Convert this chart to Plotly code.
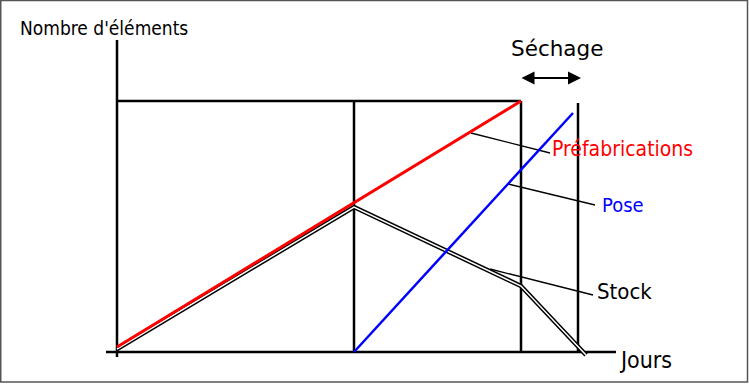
import plotly.graph_objects as go

# Conceptual units (origin at bottom-left corner of the diagram)
# Phase boundaries on the "Jours" axis
jours_debut = 0
jours_fin_stock_initial = 237   # end of first phase (pose starts)
jours_fin_prefab = 404          # end of prefabrication
jours_fin_sechage = 461         # end of drying
nombre_max = 251                # total number of elements

# Series
prefab_x = [0, 404]
prefab_y = [5, 251]
pose_x = [237, 456]
pose_y = [0, 239]
stock_x = [0, 237, 404, 469]
stock_y = [3, 145, 66, -3]

# Axis extents
axe_y_x = [0, 0]
axe_y_y = [-5, 312]
axe_x_x = [-11, 499]
axe_x_y = [0, 0]

# Leader lines [x0, x1], [y0, y1]
lead_prefab_x = [354, 433]
lead_prefab_y = [219, 199]
lead_pose_x = [391, 478]
lead_pose_y = [168, 147]
lead_stock_x = [373, 476]
lead_stock_y = [83, 57]

# Labels
labels = ["Nombre d'éléments", "Jours", "Séchage", "Préfabrications", "Pose", "Stock"]
label_x = [-99, 500, 440, 433, 483, 478]
label_y = [324, -8, 304, 203, 147, 61]

fig = go.Figure()

def seg(x, y, color="black", width=2.5):
    fig.add_trace(go.Scatter(x=x, y=y, mode="lines",
                             line=dict(color=color, width=width),
                             hoverinfo="skip", showlegend=False))

# axes
seg(axe_y_x, axe_y_y)
seg(axe_x_x, axe_x_y)
# top horizontal
seg([jours_debut, jours_fin_prefab], [nombre_max, nombre_max])
# verticals
seg([jours_fin_stock_initial] * 2, [0, nombre_max])
seg([jours_fin_prefab] * 2, [0, nombre_max])
seg([jours_fin_sechage] * 2, [0, nombre_max - 2])

# leader lines
seg(lead_prefab_x, lead_prefab_y, width=1.3)
seg(lead_pose_x, lead_pose_y, width=1.3)
seg(lead_stock_x, lead_stock_y, width=1.3)

# stock (double line)
seg(stock_x, stock_y, color="black", width=4.5)
seg(stock_x, stock_y, color="white", width=1.5)

# prefab and pose
seg(prefab_x, prefab_y, color="red", width=3)
seg(pose_x, pose_y, color="blue", width=2.5)

font_main = "DejaVu Sans Condensed, sans-serif"
colors = ["black", "black", "black", "red", "blue", "black"]
sizes = [19, 23, 21.5, 21, 20, 22]
fonts = [font_main, font_main, "DejaVu Sans", font_main, font_main, font_main]
anchors = ["left", "left", "center", "left", "left", "left"]
annotations = []
for t, x, y, c, s, f, a in zip(labels, label_x, label_y, colors, sizes, fonts, anchors):
    annotations.append(dict(x=x, y=y, xref="x", yref="y", text=t, showarrow=False,
                            xanchor=a, yanchor="middle",
                            font=dict(color=c, size=s, family=f)))

# double-headed drying arrow
annotations.append(dict(x=jours_fin_sechage + 3, y=274, ax=jours_fin_prefab - 1, ay=274,
                        xref="x", yref="y", axref="x", ayref="y", text="",
                        showarrow=True, arrowhead=2, startarrowhead=2,
                        arrowside="end+start", arrowsize=1.3, startarrowsize=1.3,
                        arrowwidth=2, arrowcolor="black"))

fig.update_layout(
    width=749, height=385,
    margin=dict(l=0, r=0, t=0, b=0),
    paper_bgcolor="white", plot_bgcolor="white",
    xaxis=dict(range=[-117, 632], visible=False, fixedrange=True),
    yaxis=dict(range=[-33, 352], visible=False, fixedrange=True),
    annotations=annotations,
    shapes=[dict(type="rect", xref="paper", yref="paper",
                 x0=0.001, y0=0.008, x1=0.998, y1=0.999,
                 line=dict(color="#555555", width=1.5))],
)

fig.write_html("out.html", config={"displayModeBar": False},
               post_script="document.body.style.margin='0';document.body.style.overflow='hidden';")
